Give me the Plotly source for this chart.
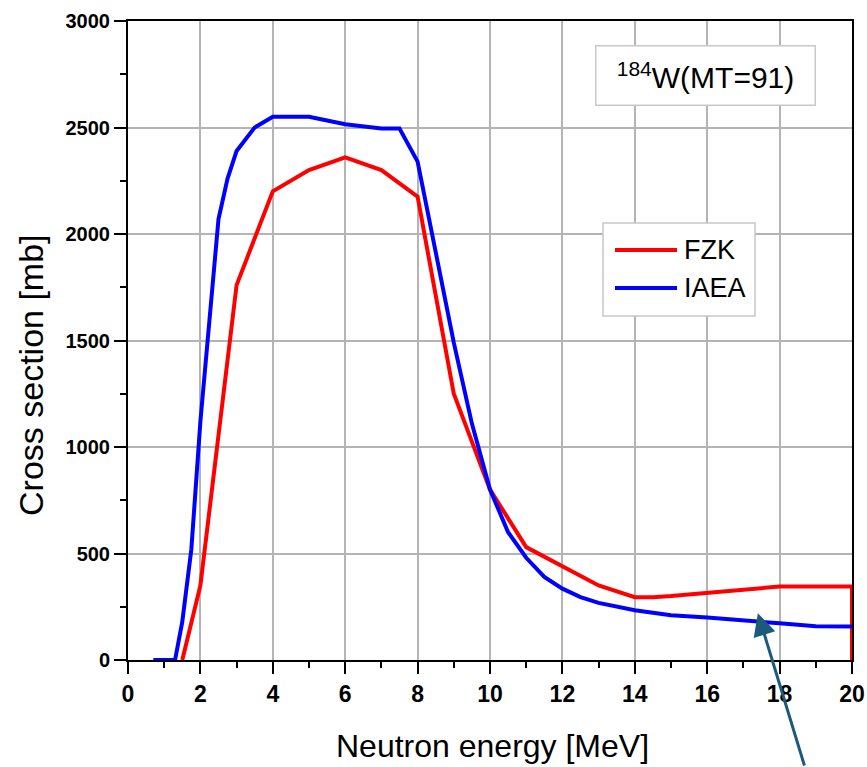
import plotly.graph_objects as go

# ---------------- data ----------------
fzk_energy = [1.5, 2, 3, 4, 5, 6, 7, 8, 9, 10, 11, 12, 13, 14, 14.5, 15, 16, 17, 18, 19, 20, 20]
fzk_xs = [0, 350, 1760, 2200, 2300, 2360, 2300, 2175, 1250, 800, 530, 440, 350, 295, 295, 300, 315, 330, 345, 345, 345, 0]

iaea_energy = [0.7, 1.3, 1.5, 1.75, 2, 2.25, 2.5, 2.75, 3, 3.5, 4, 5, 6, 7, 7.5, 8, 8.5, 9, 9.5, 10,
               10.5, 11, 11.5, 12, 12.5, 13, 14, 15, 16, 17, 18, 19, 20]
iaea_xs = [0, 0, 180, 520, 1120, 1620, 2070, 2260, 2390, 2500, 2550, 2550, 2515, 2495, 2495, 2340, 1920,
           1490, 1110, 800, 600, 480, 390, 335, 295, 268, 234, 210, 200, 188, 172, 158, 157]

series_names = ["FZK", "IAEA"]
series_colors = ["#ff0000", "#0000ff"]

x_ticks = [0, 2, 4, 6, 8, 10, 12, 14, 16, 18, 20]
y_ticks = [0, 500, 1000, 1500, 2000, 2500, 3000]

title_text = "<sup>184</sup>W(MT=91)"
x_title = "Neutron energy [MeV]"
y_title = "Cross section [mb]"

# ---------------- layout helpers ----------------
W, H = 867, 767
L, R, T, B = 128, 15, 21, 107
PW, PH = W - L - R, H - T - B


def px(x):
    return (x - L) / PW


def py(y):
    return (H - B - y) / PH


fig = go.Figure()
for xs, ys, name, col in [(fzk_energy, fzk_xs, series_names[0], series_colors[0]),
                          (iaea_energy, iaea_xs, series_names[1], series_colors[1])]:
    fig.add_trace(go.Scatter(x=xs, y=ys, mode="lines", name=name,
                             line=dict(color=col, width=4), showlegend=False, cliponaxis=False))

tickfont_y = dict(family="Liberation Sans, Arial, sans-serif", size=20, color="black", weight="bold")
tickfont_x = dict(family="Liberation Sans, Arial, sans-serif", size=23, color="black", weight="bold")

fig.update_xaxes(range=[0, 20], tickvals=x_ticks, ticktext=[str(v) for v in x_ticks],
                 showgrid=True, gridcolor="#b4b4b4", gridwidth=2,
                 showline=True, linecolor="black", linewidth=2, mirror=True,
                 ticks="outside", ticklen=12, tickwidth=2, tickcolor="black",
                 minor=dict(dtick=1, tick0=0, ticks="outside", ticklen=6, tickwidth=2,
                            tickcolor="black", showgrid=False),
                 zeroline=False, tickfont=tickfont_x, automargin=False)
fig.update_yaxes(range=[0, 3000], tickvals=y_ticks, ticktext=[str(v) for v in y_ticks],
                 showgrid=True, gridcolor="#b4b4b4", gridwidth=2,
                 showline=True, linecolor="black", linewidth=2, mirror=True,
                 ticks="outside", ticklen=12, tickwidth=2, tickcolor="black",
                 minor=dict(dtick=250, tick0=0, ticks="outside", ticklen=6, tickwidth=2,
                            tickcolor="black", showgrid=False),
                 zeroline=False, tickfont=tickfont_y, automargin=False)

# axis titles as annotations (placed like the reference)
fig.add_annotation(xref="paper", yref="paper", x=px(492), y=py(746), text=x_title, showarrow=False,
                   xanchor="center", yanchor="middle",
                   font=dict(family="Liberation Sans, Arial", size=32, color="black"))
fig.add_annotation(xref="paper", yref="paper", x=px(31), y=py(375), text=y_title, showarrow=False,
                   textangle=-90, xanchor="center", yanchor="middle",
                   font=dict(family="Liberation Sans, Arial", size=34, color="black"))

# title box
fig.add_annotation(xref="paper", yref="paper", x=px(705), y=py(75), text=title_text,
                   showarrow=False, width=216, height=56, borderpad=1,
                   xanchor="center", yanchor="middle",
                   bordercolor="#c8c8c8", borderwidth=1.5, bgcolor="white",
                   font=dict(family="Liberation Sans, Arial", size=30, color="black"))

# legend box (manual)
fig.add_shape(type="rect", xref="paper", yref="paper", x0=px(603), x1=px(755), y0=py(316), y1=py(223),
              line=dict(color="#c8c8c8", width=1.5), fillcolor="white", layer="above")
for i, (name, col) in enumerate(zip(series_names, series_colors)):
    yy = 250 + i * 38
    fig.add_shape(type="line", xref="paper", yref="paper", x0=px(615), x1=px(677), y0=py(yy), y1=py(yy),
                  line=dict(color=col, width=4), layer="above")
    fig.add_annotation(xref="paper", yref="paper", x=px(682), y=py(yy), text=name, showarrow=False,
                       xanchor="left", yanchor="middle",
                       font=dict(family="Liberation Sans, Arial", size=27, color="black"))

# arrow
fig.add_annotation(x=17.4, y=220, xref="x", yref="y", text="", showarrow=True,
                   ax=47, ay=160, arrowhead=2, arrowsize=1.5, arrowwidth=3, arrowcolor="#1b5a7a")

fig.update_layout(width=W, height=H, margin=dict(l=L, r=R, t=T, b=B, autoexpand=False),
                  plot_bgcolor="white", paper_bgcolor="white", showlegend=False)

fig.write_html("out.html")
